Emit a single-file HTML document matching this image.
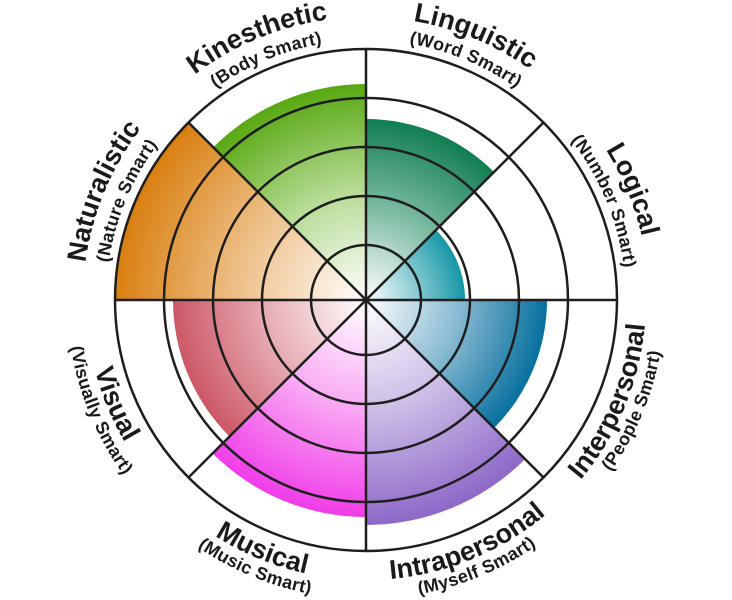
<!DOCTYPE html>
<html><head><meta charset="utf-8"><style>
html,body{margin:0;padding:0;background:#fff;}
svg{display:block;}
.t{font-family:"Liberation Sans",sans-serif;font-weight:bold;font-size:27px;fill:#1a1a1a;}
.s{font-family:"Liberation Sans",sans-serif;font-weight:bold;font-size:18px;fill:#1a1a1a;letter-spacing:0.3px;}
</style></head><body>
<svg width="732" height="600" viewBox="0 0 732 600" xmlns="http://www.w3.org/2000/svg">
<defs>
<radialGradient id="g1" gradientUnits="userSpaceOnUse" cx="366" cy="300" r="181"><stop offset="0" stop-color="#fff"/><stop offset="0.5" stop-color="#7fbca4"/><stop offset="1" stop-color="#117e52"/></radialGradient>
<radialGradient id="g2" gradientUnits="userSpaceOnUse" cx="366" cy="300" r="99"><stop offset="0" stop-color="#fff"/><stop offset="0.5" stop-color="#8ccdd4"/><stop offset="1" stop-color="#1597a6"/></radialGradient>
<radialGradient id="g3" gradientUnits="userSpaceOnUse" cx="366" cy="300" r="181"><stop offset="0" stop-color="#fff"/><stop offset="0.5" stop-color="#8cbcd4"/><stop offset="1" stop-color="#07709e"/></radialGradient>
<radialGradient id="g4" gradientUnits="userSpaceOnUse" cx="366" cy="300" r="225"><stop offset="0" stop-color="#fff"/><stop offset="0.5" stop-color="#cbbce6"/><stop offset="1" stop-color="#8e68c8"/></radialGradient>
<radialGradient id="g5" gradientUnits="userSpaceOnUse" cx="366" cy="300" r="217"><stop offset="0" stop-color="#fff"/><stop offset="0.5" stop-color="#f9a8f4"/><stop offset="1" stop-color="#f03ce8"/></radialGradient>
<radialGradient id="g6" gradientUnits="userSpaceOnUse" cx="366" cy="300" r="193"><stop offset="0" stop-color="#fff"/><stop offset="0.5" stop-color="#e8b0b8"/><stop offset="1" stop-color="#cc5866"/></radialGradient>
<radialGradient id="g7" gradientUnits="userSpaceOnUse" cx="366" cy="300" r="251"><stop offset="0" stop-color="#fff"/><stop offset="0.45" stop-color="#f0c898"/><stop offset="1" stop-color="#d97f10"/></radialGradient>
<radialGradient id="g8" gradientUnits="userSpaceOnUse" cx="366" cy="300" r="216"><stop offset="0" stop-color="#fff"/><stop offset="0.5" stop-color="#b8dc98"/><stop offset="1" stop-color="#58a812"/></radialGradient>
<path id="a1t" d="M366,17 A283,283 0 0 1 566.1,99.9"/>
<path id="a1s" d="M366,40 A260,260 0 0 1 549.8,116.2"/>
<path id="a2t" d="M566.1,99.9 A283,283 0 0 1 649,300"/>
<path id="a2s" d="M549.8,116.2 A260,260 0 0 1 626,300"/>
<path id="a7t" d="M83,300 A283,283 0 0 1 165.9,99.9"/>
<path id="a7s" d="M106,300 A260,260 0 0 1 182.2,116.2"/>
<path id="a8t" d="M165.9,99.9 A283,283 0 0 1 366,17"/>
<path id="a8s" d="M182.2,116.2 A260,260 0 0 1 366,40"/>
<path id="a3t" d="M564,498 A280,280 0 0 0 646,300"/>
<path id="a3s" d="M577.4,511.4 A299,299 0 0 0 665,300"/>
<path id="a4t" d="M366,580 A280,280 0 0 0 564,498"/>
<path id="a4s" d="M366,599 A299,299 0 0 0 577.4,511.4"/>
<path id="a5t" d="M168,498 A280,280 0 0 0 366,580"/>
<path id="a5s" d="M154.6,511.4 A299,299 0 0 0 366,599"/>
<path id="a6t" d="M86,300 A280,280 0 0 0 168,498"/>
<path id="a6s" d="M67,300 A299,299 0 0 0 154.6,511.4"/>
</defs>
<path d="M366,300 L366,119 A181,181 0 0 1 494,172 Z" fill="url(#g1)"/>
<path d="M366,300 L436,230 A99,99 0 0 1 465,300 Z" fill="url(#g2)"/>
<path d="M366,300 L547,300 A181,181 0 0 1 494,428 Z" fill="url(#g3)"/>
<path d="M366,300 L525.1,459.1 A225,225 0 0 1 366,525 Z" fill="url(#g4)"/>
<path d="M366,300 L366,517 A217,217 0 0 1 212.6,453.4 Z" fill="url(#g5)"/>
<path d="M366,300 L229.5,436.5 A193,193 0 0 1 173,300 Z" fill="url(#g6)"/>
<path d="M366,300 L115,300 A251,251 0 0 1 188.5,122.5 Z" fill="url(#g7)"/>
<path d="M366,300 L213.3,147.3 A216,216 0 0 1 366,84 Z" fill="url(#g8)"/>
<g fill="none" stroke="#1e1e1e" stroke-width="2.5">
<circle cx="366" cy="300" r="55"/>
<circle cx="366" cy="300" r="104"/>
<circle cx="366" cy="300" r="153"/>
<circle cx="366" cy="300" r="202"/>
<circle cx="366" cy="300" r="251"/>
<line x1="366" y1="49" x2="366" y2="551"/>
<line x1="115" y1="300" x2="617" y2="300"/>
<line x1="188.5" y1="122.5" x2="543.5" y2="477.5"/>
<line x1="543.5" y1="122.5" x2="188.5" y2="477.5"/>
</g>
<text class="t"><textPath href="#a1t" startOffset="50%" text-anchor="middle">Linguistic</textPath></text>
<text class="s"><textPath href="#a1s" startOffset="50%" text-anchor="middle">(Word Smart)</textPath></text>
<text class="t"><textPath href="#a2t" startOffset="50%" text-anchor="middle">Logical</textPath></text>
<text class="s"><textPath href="#a2s" startOffset="50%" text-anchor="middle">(Number Smart)</textPath></text>
<text class="t"><textPath href="#a7t" startOffset="50%" text-anchor="middle">Naturalistic</textPath></text>
<text class="s"><textPath href="#a7s" startOffset="50%" text-anchor="middle">(Nature Smart)</textPath></text>
<text class="t"><textPath href="#a8t" startOffset="50%" text-anchor="middle">Kinesthetic</textPath></text>
<text class="s"><textPath href="#a8s" startOffset="50%" text-anchor="middle">(Body Smart)</textPath></text>
<text class="t"><textPath href="#a3t" startOffset="50%" text-anchor="middle">Interpersonal</textPath></text>
<text class="s"><textPath href="#a3s" startOffset="50%" text-anchor="middle">(People Smart)</textPath></text>
<text class="t"><textPath href="#a4t" startOffset="50%" text-anchor="middle">Intrapersonal</textPath></text>
<text class="s"><textPath href="#a4s" startOffset="50%" text-anchor="middle">(Myself Smart)</textPath></text>
<text class="t"><textPath href="#a5t" startOffset="50%" text-anchor="middle">Musical</textPath></text>
<text class="s"><textPath href="#a5s" startOffset="50%" text-anchor="middle">(Music Smart)</textPath></text>
<text class="t"><textPath href="#a6t" startOffset="50%" text-anchor="middle">Visual</textPath></text>
<text class="s"><textPath href="#a6s" startOffset="50%" text-anchor="middle">(Visually Smart)</textPath></text>
</svg>
</body></html>
